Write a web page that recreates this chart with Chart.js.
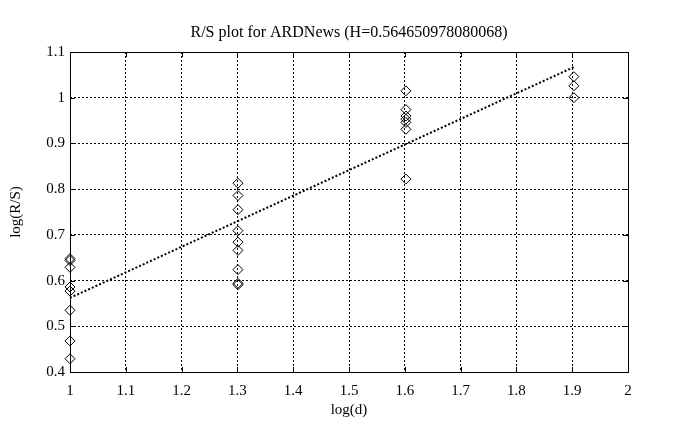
<!DOCTYPE html>
<html>
<head>
<meta charset="utf-8">
<script src="https://cdn.jsdelivr.net/npm/chart.js@4/dist/chart.umd.min.js"></script>
<style>
html,body{margin:0;padding:0;background:#fff;}
canvas{display:block;}
</style>
</head>
<body>
<canvas id="c" width="678" height="430"></canvas>
<script>
const titleText = "R/S plot for ARDNews (H=0.564650978080068)";
const xLabel = "log(d)";
const yLabel = "log(R/S)";
const logD = [1, 1.301, 1.602, 1.903];
const rsAtD10 = [0.648, 0.644, 0.629, 0.586, 0.577, 0.535, 0.468, 0.429];
const rsAtD20 = [0.813, 0.786, 0.755, 0.709, 0.684, 0.666, 0.624, 0.594, 0.591];
const rsAtD40 = [1.015, 0.974, 0.960, 0.953, 0.946, 0.931, 0.822];
const rsAtD80 = [1.046, 1.026, 1.000];
const fitX = [1, 1.903];
const fitY = [0.562, 1.067];
const xTicks = [1, 1.1, 1.2, 1.3, 1.4, 1.5, 1.6, 1.7, 1.8, 1.9, 2];
const yTicks = [0.4, 0.5, 0.6, 0.7, 0.8, 0.9, 1, 1.1];

const groups = [rsAtD10, rsAtD20, rsAtD40, rsAtD80];
const points = [];
groups.forEach((g, i) => g.forEach(v => points.push({x: logD[i], y: v})));
const fitLine = fitX.map((x, i) => ({x: x, y: fitY[i]}));

const FONT = "'Liberation Serif', 'Times New Roman', serif";

const boxPlugin = {
  id: 'boxTicks',
  afterLayout(chart) {
    const t = chart.titleBlock;
    if (t) {
      t.left = chart.chartArea.left;
      t.right = chart.chartArea.right;
      t.width = t.right - t.left;
    }
  },
  afterDraw(chart) {
    const {ctx, chartArea: a, scales} = chart;
    ctx.save();
    ctx.strokeStyle = '#000';
    ctx.lineWidth = 1;
    ctx.setLineDash([]);
    ctx.strokeRect(Math.round(a.left) + 0.5, Math.round(a.top) + 0.5, Math.round(a.right - a.left), Math.round(a.bottom - a.top));
    const L = 5;
    ctx.beginPath();
    xTicks.forEach(t => {
      const px = Math.round(scales.x.getPixelForValue(t)) + 0.5;
      ctx.moveTo(px, a.bottom); ctx.lineTo(px, a.bottom - L);
      ctx.moveTo(px, a.top); ctx.lineTo(px, a.top + L);
    });
    yTicks.forEach(t => {
      const py = Math.round(scales.y.getPixelForValue(t)) + 0.5;
      ctx.moveTo(a.left, py); ctx.lineTo(a.left + L, py);
      ctx.moveTo(a.right, py); ctx.lineTo(a.right - L, py);
    });
    ctx.stroke();
    ctx.restore();
  }
};
const bgPlugin = {
  id: 'bg',
  beforeDraw(chart) {
    const ctx = chart.ctx;
    ctx.save(); ctx.fillStyle = '#fff'; ctx.fillRect(0, 0, chart.width, chart.height); ctx.restore();
  }
};

new Chart(document.getElementById('c'), {
  type: 'scatter',
  data: {
    datasets: [
      {
        label: 'R/S',
        data: points,
        pointStyle: 'rectRot',
        pointRadius: 5,
        pointHoverRadius: 5,
        borderColor: '#000',
        backgroundColor: 'rgba(0,0,0,0)',
        borderWidth: 1,
        showLine: false,
        clip: false
      },
      {
        label: 'fit',
        data: fitLine,
        showLine: true,
        pointRadius: 0,
        borderColor: '#000',
        borderWidth: 2,
        borderDash: [2, 2],
        fill: false,
        clip: false
      }
    ]
  },
  options: {
    responsive: false,
    animation: false,
    layout: {padding: {left: 0, right: 50, top: 0, bottom: 0}},
    plugins: {
      legend: {display: false},
      tooltip: {enabled: false},
      title: {
        display: true,
        text: titleText,
        color: '#000',
        font: {family: FONT, size: 16, weight: 'normal'},
        padding: {top: 23.4, bottom: 9.4}
      }
    },
    scales: {
      x: {
        type: 'linear',
        min: 1, max: 2,
        afterBuildTicks(s) { s.ticks = xTicks.map(v => ({value: v})); },
        afterFit(s) { s.height = 58; },
        ticks: {
          color: '#000',
          font: {family: FONT, size: 15},
          padding: 10,
          maxRotation: 0,
          callback: v => String(v)
        },
        grid: {color: '#000', lineWidth: 1, drawTicks: false},
        border: {display: false, dash: [2, 2]},
        title: {
          display: true, text: xLabel, color: '#000',
          font: {family: FONT, size: 15},
          padding: {top: 0, bottom: 11}
        }
      },
      y: {
        type: 'linear',
        min: 0.4, max: 1.1,
        afterBuildTicks(s) { s.ticks = yTicks.map(v => ({value: v})); },
        afterFit(s) { s.width = 70; },
        ticks: {
          color: '#000',
          font: {family: FONT, size: 15},
          padding: 5,
          callback: v => String(v)
        },
        grid: {color: '#000', lineWidth: 1, drawTicks: false},
        border: {display: false, dash: [2, 2]},
        title: {
          display: true, text: yLabel, color: '#000',
          font: {family: FONT, size: 15},
          padding: {top: 7, bottom: 0}
        }
      }
    }
  },
  plugins: [bgPlugin, boxPlugin]
});
</script>
</body>
</html>
